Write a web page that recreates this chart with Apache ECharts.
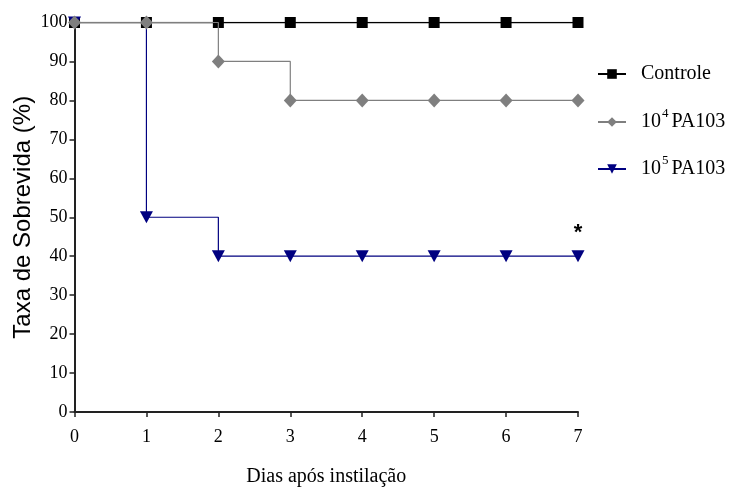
<!DOCTYPE html>
<html><head><meta charset="utf-8">
<script src="https://cdn.jsdelivr.net/npm/echarts@6/dist/echarts.min.js"></script>
<style>html,body{margin:0;padding:0;background:#fff}#c{width:732px;height:487px}</style>
</head><body><div id="c"></div>
<script>
const days = [0, 1, 2, 3, 4, 5, 6, 7];
const controle = [100, 100, 100, 100, 100, 100, 100, 100];
const pa104 = [100, 100, 90, 80, 80, 80, 80, 80];
const pa105 = [100, 50, 40, 40, 40, 40, 40, 40];
const yTicks = [0, 10, 20, 30, 40, 50, 60, 70, 80, 90, 100];
const names = ['Controle', '10^4 PA103', '10^5 PA103'];
const serif = 'Liberation Serif';

const pairs = vals => vals.map((v, i) => [days[i], v]);
const d105 = pairs(pa105).map((p, i, a) => i === a.length - 1
  ? { value: p, label: { show: true, position: 'top', formatter: '*', distance: 6,
      fontSize: 22, fontFamily: 'Liberation Sans', fontWeight: 'bold', color: '#000' } }
  : p);

const rich = {
  c: { fontFamily: serif, fontSize: 20, color: '#000', padding: [0, 0, 0, 10] },
  f: { fontFamily: serif, fontSize: 20, color: '#000', padding: [5, 0, 5, 10], verticalAlign: 'middle' },
  a: { fontFamily: serif, fontSize: 20, color: '#000', padding: [5, 0, 5, 0], verticalAlign: 'middle' },
  s: { fontFamily: serif, fontSize: 13, lineHeight: 14, color: '#000', verticalAlign: 'top', padding: [0, 3, 0, 1] }
};
const fmt = n => n === 'Controle' ? '{c|Controle}' :
  (n === '10^4 PA103' ? '{f|10}{s|4}{a|PA103}' : '{f|10}{s|5}{a|PA103}');
const legendAt = (name, top) => ({
  data: [name], left: 592, top: top, orient: 'vertical', itemWidth: 28, itemHeight: 12,
  itemGap: 10, formatter: fmt, textStyle: { rich: rich, fontFamily: serif, fontSize: 20, color: '#000' },
  selectedMode: false
});

const chart = echarts.init(document.getElementById('c'));
chart.setOption({
  animation: false,
  grid: { left: 74.5, right: 154, top: 22.5, bottom: 75, containLabel: false, outerBoundsMode: 'none' },
  legend: [legendAt(names[0], 59), legendAt(names[1], 102), legendAt(names[2], 149)],
  xAxis: {
    type: 'value', min: 0, max: 7, interval: 1,
    name: 'Dias após instilação', nameLocation: 'middle', nameGap: 55, nameMoveOverlap: false,
    nameTextStyle: { fontFamily: serif, fontSize: 20, color: '#000' },
    axisLine: { lineStyle: { color: '#222', width: 2 } },
    axisTick: { show: true, length: 5, lineStyle: { color: '#222', width: 1.5 } },
    axisLabel: { fontFamily: serif, fontSize: 18, color: '#000', margin: 16 },
    splitLine: { show: false }
  },
  yAxis: {
    type: 'value', min: 0, max: 100, interval: 10,
    name: 'Taxa de Sobrevida (%)', nameLocation: 'middle', nameGap: 39, nameMoveOverlap: false,
    nameTextStyle: { fontFamily: 'Liberation Sans', fontSize: 24, color: '#000' },
    axisLine: { show: true, lineStyle: { color: '#222', width: 2 } },
    axisTick: { show: true, length: 5, lineStyle: { color: '#222', width: 1.5 } },
    axisLabel: { fontFamily: serif, fontSize: 18, color: '#000', margin: 7,
      formatter: v => yTicks.includes(v) ? String(v) : '' },
    splitLine: { show: false }
  },
  series: [
    { name: names[0], type: 'line', step: 'end', data: pairs(controle), z: 2,
      symbol: 'rect', symbolSize: 11, showAllSymbol: true,
      lineStyle: { color: '#000', width: 1.5 }, itemStyle: { color: '#000' } },
    { name: names[1], type: 'line', step: 'end', data: pairs(pa104), z: 4,
      symbol: 'diamond', symbolSize: [13, 14],
      lineStyle: { color: '#7f7f7f', width: 1.2 }, itemStyle: { color: '#7f7f7f' } },
    { name: names[2], type: 'line', step: 'end', data: d105, z: 3,
      symbol: 'triangle', symbolRotate: 180, symbolSize: [13, 12],
      lineStyle: { color: '#000080', width: 1.2 }, itemStyle: { color: '#000080' } }
  ]
});
</script></body></html>
